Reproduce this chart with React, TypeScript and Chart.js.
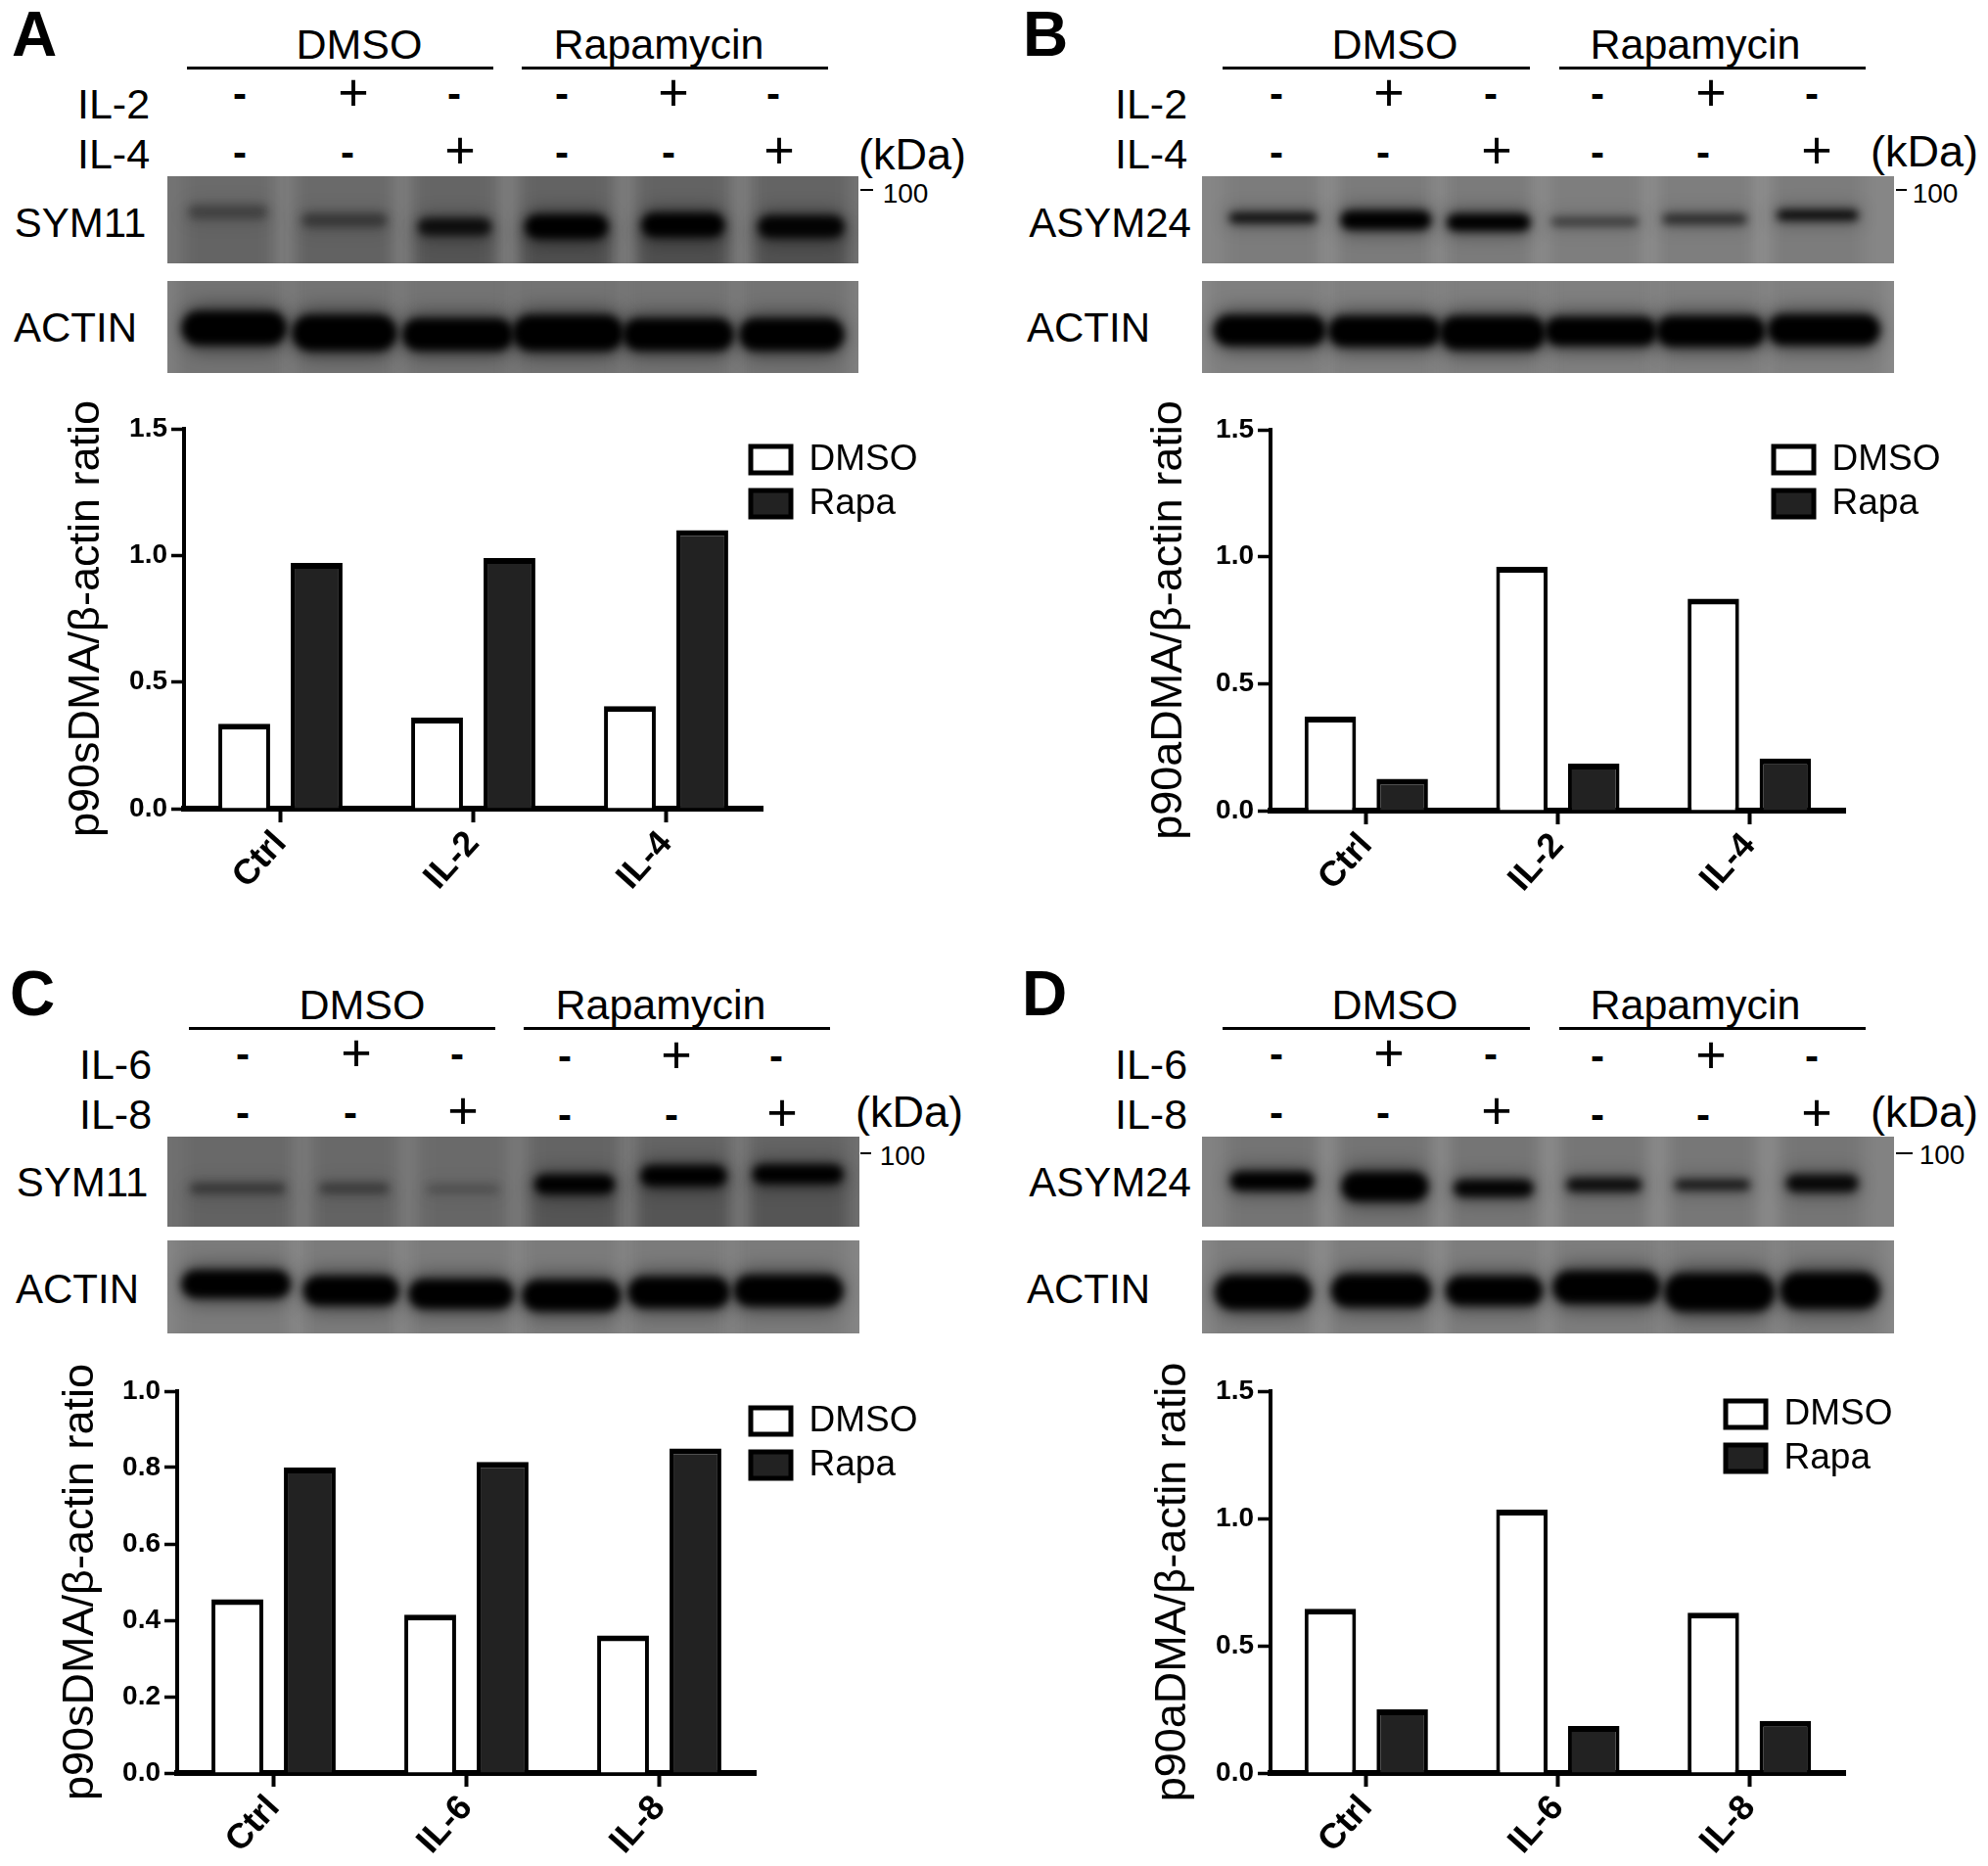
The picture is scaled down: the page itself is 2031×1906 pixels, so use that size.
import React, { useEffect, useRef } from "react";
import { Chart, registerables } from "chart.js";

Chart.register(...registerables);

const FONT = '"Liberation Sans", Arial, sans-serif';

// ---------- chart data ----------
const SERIES_NAMES = ["DMSO", "Rapa"];
const CATS_AB = ["Ctrl", "IL-2", "IL-4"];
const CATS_CD = ["Ctrl", "IL-6", "IL-8"];
const A_DMSO = [0.335, 0.36, 0.405];
const A_RAPA = [0.97, 0.99, 1.1];
const B_DMSO = [0.37, 0.96, 0.835];
const B_RAPA = [0.125, 0.185, 0.205];
const C_DMSO = [0.455, 0.415, 0.36];
const C_RAPA = [0.8, 0.815, 0.85];
const D_DMSO = [0.645, 1.035, 0.63];
const D_RAPA = [0.25, 0.185, 0.205];
const TITLE_S = "p90sDMA/β-actin ratio";
const TITLE_A = "p90aDMA/β-actin ratio";

// ---------- blot imagery: [x0, x1, yCentre, height, darkness] ----------
type Band = number[];
const BLOT_A_TOP: Band[] = [[300,420,650,40,.3],[480,610,675,40,.38],[665,775,695,50,.8],[835,960,695,70,1],[1020,1145,690,70,1],[1205,1335,695,65,.95]];
const BLOT_A_ACT: Band[] = [[290,450,1005,100,1],[465,625,1020,105,1],[640,810,1025,95,1],[815,985,1020,105,1],[990,1160,1025,95,1],[1175,1335,1025,95,1]];
const BLOT_B_TOP: Band[] = [[345,480,668,30,.85],[525,665,675,55,1],[697,825,682,50,1],[865,1000,680,25,.5],[1045,1175,672,30,.6],[1230,1355,660,30,.9]];
const BLOT_B_ACT: Band[] = [[320,495,1012,90,1],[505,680,1015,90,1],[685,850,1020,100,1],[855,1030,1015,85,1],[1035,1205,1015,90,1],[1215,1390,1010,90,1]];
const BLOT_C_TOP: Band[] = [[305,450,670,30,.4],[510,615,670,30,.36],[680,790,672,25,.2],[852,972,658,55,1],[1020,1150,632,60,1],[1198,1335,627,55,1]];
const BLOT_C_ACT: Band[] = [[292,458,965,80,1],[485,630,985,85,1],[652,812,995,85,1],[832,982,1000,90,1],[1000,1155,990,90,1],[1168,1335,985,90,1]];
const BLOT_D_TOP: Band[] = [[347,475,648,55,1],[527,660,665,85,1],[708,830,670,50,.95],[890,1005,660,40,.85],[1065,1180,660,30,.75],[1245,1355,655,50,.9]];
const BLOT_D_ACT: Band[] = [[322,472,990,100,1],[510,665,985,95,1],[695,845,985,85,1],[868,1035,975,95,1],[1048,1220,990,110,1],[1235,1390,985,105,1]];

function Blot({ x, y, w, h, frame, bands, base, laneDark, smear = 0 }: any) {
  const ref = useRef<HTMLCanvasElement>(null);
  useEffect(() => {
    const ctx = ref.current!.getContext("2d")!;
    const [fl, fr, ft, fb] = frame;
    const X = (v: number) => ((v - fl) / (fr - fl)) * w;
    const Y = (v: number) => ((v - ft) / (fb - ft)) * h;
    ctx.fillStyle = `rgb(${base},${base},${base})`;
    ctx.fillRect(0, 0, w, h);
    ctx.save();
    ctx.filter = "blur(8px)";
    bands.forEach((b: Band) => {
      const bx = X(b[0]) - 6;
      const bw = X(b[1]) - X(b[0]) + 12;
      ctx.fillStyle = `rgba(0,0,0,${laneDark * (0.35 + 0.65 * b[4])})`;
      ctx.fillRect(bx, -20, bw, h + 40);
      if (smear) {
        const by = Y(b[2]);
        ctx.fillStyle = `rgba(0,0,0,${smear * b[4]})`;
        ctx.fillRect(bx, by, bw, h - by + 20);
      }
    });
    ctx.fillStyle = "rgba(255,255,255,.10)";
    for (let i = 0; i < bands.length - 1; i++) {
      const mid = X((bands[i][1] + bands[i + 1][0]) / 2);
      ctx.fillRect(mid - 6, -20, 12, h + 40);
    }
    ctx.restore();
    const box = (b: Band, grow: number, growY: number) => {
      const bh = (Y(b[2] + b[3] / 2) - Y(b[2] - b[3] / 2)) * growY;
      const x0 = X(b[0]) - grow;
      const bw = X(b[1]) - X(b[0]) + grow * 2;
      ctx.beginPath();
      ctx.roundRect(x0, Y(b[2]) - bh / 2, bw, bh, Math.min(bh / 2, bw / 4));
      ctx.fill();
    };
    ctx.save();
    ctx.filter = "blur(9px)";
    bands.forEach((b: Band) => {
      ctx.fillStyle = `rgba(0,0,0,${0.4 * b[4]})`;
      box(b, 4, 1.5);
    });
    ctx.restore();
    ctx.save();
    ctx.filter = "blur(4px)";
    bands.forEach((b: Band) => {
      ctx.fillStyle = `rgba(0,0,0,${b[4]})`;
      box(b, 2, 1.05);
    });
    ctx.restore();
  }, []);
  return <canvas ref={ref} width={w} height={h} style={{ position: "absolute", left: x, top: y, width: w, height: h }} />;
}

function T({ x, y, size, bold, children, color }: any) {
  return (
    <div style={{ position: "absolute", left: x, top: y, transform: "translate(-50%,-50%)", font: `${bold ? "bold " : ""}${size}px/1 ${FONT}`, whiteSpace: "nowrap", color: color || "#000" }}>
      {children}
    </div>
  );
}

function Rule({ x0, x1, y, h = 3 }: any) {
  return <div style={{ position: "absolute", left: x0, top: y - h / 2, width: x1 - x0, height: h, background: "#000" }} />;
}

function BarChart({ left, axisX, axisTop, axisBottom, plotW, cats, dmso, rapa, max, step, title, legendX, legendY }: any) {
  const ref = useRef<HTMLCanvasElement>(null);
  const pt = 30, pb = 130, pr = 220;
  const yw = axisX - left;
  const W = yw + plotW + pr;
  const H = pt + (axisBottom - axisTop) + pb;
  const canvasTop = axisTop - pt;
  useEffect(() => {
    const place = {
      id: "placeLegend",
      afterLayout(c: any) {
        const l = c.legend;
        l.left = legendX - left;
        l.right = l.left + 300;
        l.top = legendY - canvasTop;
        l.bottom = l.top + 100;
      },
    };
    const chart = new Chart(ref.current!, {
      type: "bar",
      data: {
        labels: cats,
        datasets: [
          { label: SERIES_NAMES[0], data: dmso, backgroundColor: "#ffffff", borderColor: "#000", borderWidth: { top: 6, left: 4, right: 4, bottom: 0 } as any, borderSkipped: false, categoryPercentage: 0.751, barPercentage: 0.715 },
          { label: SERIES_NAMES[1], data: rapa, backgroundColor: "#222222", borderColor: "#000", borderWidth: { top: 6, left: 4, right: 4, bottom: 0 } as any, borderSkipped: false, categoryPercentage: 0.751, barPercentage: 0.715 },
        ],
      },
      plugins: [place],
      options: {
        animation: false,
        responsive: false,
        layout: { padding: { top: pt, right: pr, left: 0, bottom: 0 } },
        plugins: {
          tooltip: { enabled: false },
          legend: {
            position: "chartArea",
            align: "start",
            labels: {
              boxWidth: 41,
              boxHeight: 27,
              padding: 8,
              color: "#000",
              font: { family: FONT, size: 37, lineHeight: 1 },
              generateLabels: (c: any) =>
                c.data.datasets.map((d: any, i: number) => ({
                  text: d.label,
                  fillStyle: d.backgroundColor,
                  strokeStyle: "#000",
                  lineWidth: 5,
                  datasetIndex: i,
                  hidden: false,
                })),
            },
          },
        },
        scales: {
          x: {
            afterFit: (s: any) => { s.height = pb; },
            grid: { offset: false, drawOnChartArea: false, drawTicks: true, tickLength: 14, tickWidth: 4, tickColor: "#000" },
            border: { color: "#000", width: 6 },
            ticks: { color: "#000", font: { family: FONT, size: 36, weight: "bold" }, minRotation: 48, maxRotation: 48, padding: 1 },
          },
          y: {
            min: 0,
            max,
            afterFit: (s: any) => { s.width = yw; },
            grid: { drawOnChartArea: false, drawTicks: true, tickLength: 13, tickWidth: 3.5, tickColor: "#000" },
            border: { color: "#000", width: 4 },
            ticks: { stepSize: step, color: "#000", font: { family: FONT, size: 28, weight: "bold" }, padding: 4, callback: (v: any) => Number(v).toFixed(1) },
            title: { display: true, text: title, color: "#000", font: { family: FONT, size: 45, lineHeight: 1.2 }, padding: 0 },
          },
        },
      } as any,
    });
    return () => chart.destroy();
  }, []);
  return <canvas ref={ref} width={W} height={H} style={{ position: "absolute", left, top: canvasTop, width: W, height: H }} />;
}

function Header({ letter, letterX, letterY, dmsoX, rapaX, textY, l1, l2, l3, l4, lineY, row1, row2, labelX, labelY1, labelY2, name1, name2, signsX1, signsX2, plus1Y, dash1Y, plus2Y, dash2Y, shift, kdaX, kdaY, hX, hY, tick0, tick1, tickY, protein, protX, protY, actX, actY }: any) {
  const signs = (xs: number[], marks: string, plusY: number, dashY: number) =>
    xs.map((sx, i) => {
      const s = i > 2 ? shift : 0;
      return marks[i] === "+" ? (
        <T key={i} x={sx} y={plusY + s} size={54}>+</T>
      ) : (
        <T key={i} x={sx} y={dashY + s} size={42} bold>-</T>
      );
    });
  return (
    <>
      <T x={letterX} y={letterY} size={64} bold>{letter}</T>
      <T x={dmsoX} y={textY} size={43}>DMSO</T>
      <T x={rapaX} y={textY} size={43}>Rapamycin</T>
      <Rule x0={l1} x1={l2} y={lineY} />
      <Rule x0={l3} x1={l4} y={lineY} />
      <T x={labelX} y={labelY1} size={43}>{name1}</T>
      <T x={labelX} y={labelY2} size={43}>{name2}</T>
      {signs(signsX1, row1, plus1Y, dash1Y)}
      {signs(signsX2, row2, plus2Y, dash2Y)}
      <T x={kdaX} y={kdaY} size={45}>(kDa)</T>
      <T x={hX} y={hY} size={28}>100</T>
      <Rule x0={tick0} x1={tick1} y={tickY} h={2.5} />
      <T x={protX} y={protY} size={42}>{protein}</T>
      <T x={actX} y={actY} size={42}>ACTIN</T>
    </>
  );
}

const ROW1 = "-+--+-";
const ROW2 = "--+--+";
const SX1_A = [245, 361, 464, 574, 688, 790];
const SX2_A = [245, 355, 470, 574, 683, 796];
const SX1_B = [1304, 1419, 1523, 1632, 1748, 1851];
const SX2_B = [1304, 1413, 1529, 1632, 1740, 1856];

export default function App() {
  useEffect(() => {
    document.body.style.background = "#fff";
  }, []);
  return (
    <div style={{ position: "absolute", left: 0, top: 0, width: 2031, height: 1906, background: "#fff", overflow: "hidden" }}>
      {/* Panel A */}
      <Header letter="A" letterX={35} letterY={35} dmsoX={367} rapaX={673} textY={45} l1={191} l2={504} l3={533} l4={846} lineY={69} row1={ROW1} row2={ROW2} labelX={116} labelY1={106} labelY2={157} name1="IL-2" name2="IL-4" signsX1={SX1_A} signsX2={SX2_A} plus1Y={94} dash1Y={96} plus2Y={153} dash2Y={156} shift={0} kdaX={932} kdaY={157} hX={925} hY={198} tick0={879} tick1={892} tickY={194} protein="SYM11" protX={82} protY={228} actX={77} actY={335} />
      <Blot x={171} y={180} w={706} h={89} frame={[264, 1361, 540, 808]} bands={BLOT_A_TOP} base={116} laneDark={0.14} smear={0.2} />
      <Blot x={171} y={287} w={706} h={94} frame={[264, 1361, 860, 1143]} bands={BLOT_A_ACT} base={128} laneDark={0.1} />
      <BarChart left={62} axisX={188} axisTop={438} axisBottom={826} plotW={591} cats={CATS_AB} dmso={A_DMSO} rapa={A_RAPA} max={1.5} step={0.5} title={TITLE_S} legendX={759} legendY={443} />

      {/* Panel B */}
      <Header letter="B" letterX={1068} letterY={35} dmsoX={1425} rapaX={1732} textY={45} l1={1249} l2={1563} l3={1593} l4={1906} lineY={69} row1={ROW1} row2={ROW2} labelX={1176} labelY1={106} labelY2={157} name1="IL-2" name2="IL-4" signsX1={SX1_B} signsX2={SX2_B} plus1Y={94} dash1Y={96} plus2Y={153} dash2Y={156} shift={0} kdaX={1966} kdaY={154} hX={1977} hY={198} tick0={1937} tick1={1948} tickY={194} protein="ASYM24" protX={1134} protY={228} actX={1112} actY={335} />
      <Blot x={1228} y={180} w={707} h={89} frame={[298, 1416, 540, 808]} bands={BLOT_B_TOP} base={134} laneDark={0.08} />
      <Blot x={1228} y={287} w={707} h={94} frame={[298, 1416, 860, 1143]} bands={BLOT_B_ACT} base={138} laneDark={0.08} />
      <BarChart left={1168} axisX={1298} axisTop={439} axisBottom={828} plotW={587} cats={CATS_AB} dmso={B_DMSO} rapa={B_RAPA} max={1.5} step={0.5} title={TITLE_A} legendX={1804} legendY={443} />

      {/* Panel C */}
      <Header letter="C" letterX={33} letterY={1015} dmsoX={370} rapaX={675} textY={1026} l1={193} l2={506} l3={535} l4={848} lineY={1050} row1={ROW1} row2={ROW2} labelX={118} labelY1={1087} labelY2={1138} name1="IL-6" name2="IL-8" signsX1={SX1_A.map((v) => v + 3)} signsX2={SX2_A.map((v) => v + 3)} plus1Y={1075} dash1Y={1077} plus2Y={1134} dash2Y={1137} shift={2} kdaX={929} kdaY={1135} hX={922} hY={1181} tick0={879} tick1={890} tickY={1178} protein="SYM11" protX={84} protY={1208} actX={79} actY={1317} />
      <Blot x={171} y={1161} w={707} h={92} frame={[266, 1364, 512, 788]} bands={BLOT_C_TOP} base={112} laneDark={0.1} smear={0.15} />
      <Blot x={171} y={1267} w={707} h={95} frame={[266, 1364, 832, 1115]} bands={BLOT_C_ACT} base={134} laneDark={0.08} />
      <BarChart left={56} axisX={181} axisTop={1421} axisBottom={1811} plotW={591} cats={CATS_CD} dmso={C_DMSO} rapa={C_RAPA} max={1.0} step={0.2} title={TITLE_S} legendX={759} legendY={1425} />

      {/* Panel D */}
      <Header letter="D" letterX={1067} letterY={1015} dmsoX={1425} rapaX={1732} textY={1026} l1={1249} l2={1563} l3={1593} l4={1906} lineY={1050} row1={ROW1} row2={ROW2} labelX={1176} labelY1={1087} labelY2={1138} name1="IL-6" name2="IL-8" signsX1={SX1_B} signsX2={SX2_B} plus1Y={1075} dash1Y={1077} plus2Y={1134} dash2Y={1137} shift={2} kdaX={1966} kdaY={1135} hX={1984} hY={1180} tick0={1937} tick1={1954} tickY={1178} protein="ASYM24" protX={1134} protY={1208} actX={1112} actY={1317} />
      <Blot x={1228} y={1161} w={707} h={92} frame={[298, 1416, 512, 788]} bands={BLOT_D_TOP} base={130} laneDark={0.1} />
      <Blot x={1228} y={1267} w={707} h={95} frame={[298, 1416, 832, 1115]} bands={BLOT_D_ACT} base={136} laneDark={0.08} />
      <BarChart left={1172} axisX={1298} axisTop={1421} axisBottom={1811} plotW={587} cats={CATS_CD} dmso={D_DMSO} rapa={D_RAPA} max={1.5} step={0.5} title={TITLE_A} legendX={1755} legendY={1418} />
    </div>
  );
}
